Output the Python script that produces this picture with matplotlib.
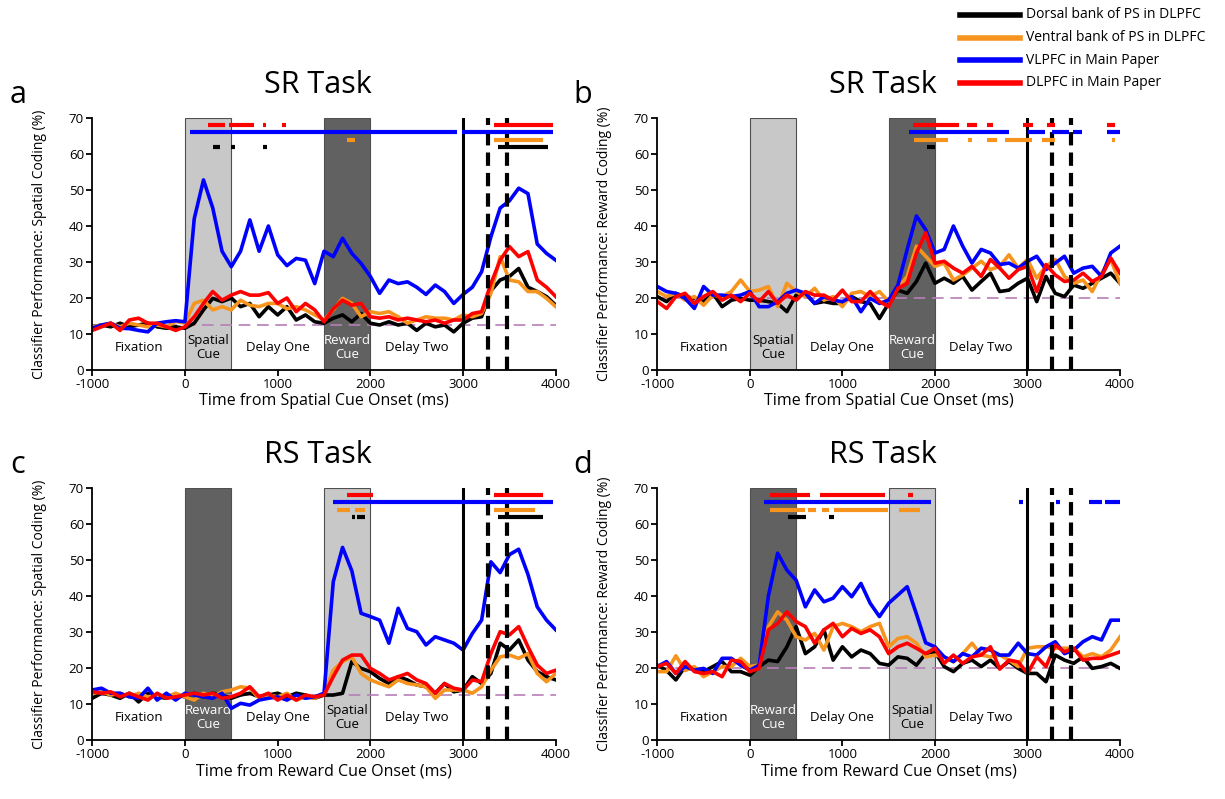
import matplotlib

matplotlib.use("Agg")

import matplotlib.pyplot as plt
import numpy as np
from matplotlib.lines import Line2D
from matplotlib.patches import Rectangle

plt.rcParams["font.family"] = ["Open Sans", "DejaVu Sans"]
plt.rcParams["axes.unicode_minus"] = False

BLACK = "#000000"
ORANGE = "#F7941D"
BLUE = "#0000FF"
RED = "#FF0000"
CHANCE = "#B77FB7"
LIGHT = "#C8C8C8"
DARK = "#616161"

# time bins (ms)
TIME = np.arange(-1000, 4001, 100)

# ---- panel a: SR task, spatial coding
a_black = [12, 12.5, 12, 13, 12, 12.5, 13, 12, 11.6, 12, 11.6,
           13, 16.7, 19.9, 19, 20, 17.6, 18.5, 14.8, 17.6, 15.3,
           17.6, 13.9, 15.3, 13.4, 13, 14.4, 15.3, 13.4, 15.7, 13,
           12.5, 13.4, 12.5, 13, 11, 13, 12, 12.5, 10.6, 13,
           14.4, 14.8, 22, 25, 26, 28.2, 23, 21.8, 20.4, 18]
a_orange = [12, 12.5, 13, 12, 13, 12.5, 12, 12.5, 12, 13.5, 13,
            18.5, 19.4, 16.7, 17.6, 16.7, 19.4, 18, 17.6, 18.5, 18.5,
            17, 17.6, 16.7, 15.3, 13.9, 16.7, 19.9, 18.5, 14.8, 16.2,
            15.7, 16.2, 14.8, 13, 13.9, 14.8, 14.4, 14.4, 13.9, 15.3,
            14.8, 15.7, 21.3, 31.5, 25, 24.5, 21.8, 21.8, 19.9, 17.6]
a_blue = [11.6, 12.5, 13, 11.6, 11.5, 11, 10.6, 13, 13.4, 13.7, 13.4,
          42, 52.8, 45, 33, 28.7, 33, 41.7, 33, 40, 32,
          29, 31, 30.5, 24, 33, 31.5, 36.6, 32.4, 29.6, 26,
          21.3, 25, 24, 24.5, 23, 21, 23.6, 21.8, 18.5, 21,
          23, 27.3, 37, 45, 47, 50.5, 49, 35, 32.4, 30.5]
a_red = [11, 12, 13, 11, 13.9, 14.4, 13, 13, 12, 11, 12,
         14.8, 18.5, 21.8, 19.4, 20.8, 21.8, 20.8, 20.8, 21.5, 18.5,
         20, 16.2, 18.5, 16.7, 13.4, 17, 19.4, 18, 18.5, 14.8,
         14.4, 14.8, 13.9, 14.4, 13.9, 13.4, 13.9, 13, 13.9, 13.9,
         15.7, 16.2, 24, 30.5, 34.3, 31.5, 32.9, 25, 23, 20.4]
a_sig_red = [(250, 430), (470, 740), (840, 875), (1050, 1090), (3330, 3975)]
a_sig_blue = [(55, 2930), (2985, 3975)]
a_sig_orange = [(1745, 1835), (3330, 3865)]
a_sig_black = [(300, 380), (495, 545), (845, 890), (3380, 3920)]

# ---- panel b: SR task, reward coding
b_black = [20.4, 19, 21.3, 20.4, 19.9, 19, 21.3, 17.6, 19.4, 19.9, 19.4,
           19.4, 19, 18.5, 16.2, 20.8, 21.3, 18.5, 19, 18.5, 18.5,
           20.4, 19, 18.5, 14.3, 18.5, 22.2, 21.3, 24.6, 29.7, 24.1,
           25.5, 24.1, 26, 22.2, 24.6, 26.9, 21.8, 22.2, 24.1, 25.5,
           19, 26, 21.3, 20.4, 23.6, 22.7, 24.1, 25.5, 26.9, 24.1]
b_orange = [21.8, 20.4, 21.3, 19.4, 20.4, 18, 20.8, 20.4, 21.8, 25, 21.8,
            22.2, 23.2, 17.6, 24.1, 21.8, 20.4, 22.7, 19.4, 20.4, 17.6,
            21.3, 21.8, 20.4, 21.8, 19, 22.7, 26, 34.4, 31.6, 28.8,
            29.7, 25, 26.4, 28.3, 30.2, 27.9, 28.8, 32, 28.3, 30.7,
            25.5, 28.8, 30.7, 26, 24.1, 25, 21.8, 26.9, 30.7, 24.1]
b_blue = [23.2, 21.8, 21.3, 19.9, 17.1, 23.2, 20.8, 20.8, 20.4, 20.8, 21.8,
          17.6, 17.6, 19, 21.3, 22.2, 21.3, 18.5, 20.4, 19.4, 19,
          20.4, 16.2, 19.9, 18.5, 19.4, 23.6, 33.5, 42.8, 39, 32.5,
          33.5, 40, 34.4, 29.7, 33.5, 32.5, 29.3, 29.7, 28.3, 30.2,
          31.6, 27.9, 29.7, 31.6, 26.9, 28.3, 28.8, 26, 32.5, 34.4]
b_red = [19, 17.1, 20.4, 21.3, 18.5, 20.4, 21.8, 19.4, 20.8, 19, 21.3,
         19, 21.8, 18.5, 20.8, 19.4, 21.8, 20.8, 20.8, 19.4, 22.2,
         19, 19, 21.8, 19, 17.6, 22.7, 24.1, 32.5, 38.1, 29.7,
         30.2, 28.3, 26.9, 28.8, 26, 30.7, 28.3, 25.5, 27.9, 28.8,
         21.8, 29.3, 26.4, 24.6, 25, 26.9, 24.6, 26, 31.1, 26.9]
b_sig_red = [(1760, 2255), (2345, 2450), (2560, 2630), (2955, 3065), (3210, 3300), (3860, 3950)]
b_sig_blue = [(1715, 2795), (3010, 3190), (3265, 3445), (3495, 3585), (3860, 4000)]
b_sig_orange = [(1770, 2145), (2360, 2400), (2560, 2670), (2760, 3045), (3155, 3300), (3910, 3950)]
b_sig_black = [(1910, 2000)]

# ---- panel c: RS task, spatial coding
c_black = [11.6, 13, 12.5, 11.6, 13, 10.6, 13, 12, 11.6, 12.5, 12,
           13, 12, 13, 12.5, 11.6, 12.5, 13, 12, 12.5, 13,
           12, 13, 12.5, 11.6, 12.5, 12.5, 13, 21.8, 19.9, 19,
           17.1, 15.7, 17.6, 16.7, 15.3, 14.8, 13, 15.7, 13.4, 13.9,
           17.6, 15.7, 18.5, 26.9, 25, 27.8, 22.2, 19, 17.6, 16.7]
c_orange = [13, 13.4, 12.5, 13, 12, 13, 12, 12.5, 12, 13, 12,
            11.1, 13, 12, 13.4, 13.9, 14.8, 14.4, 11.6, 12.5, 12,
            13, 11.1, 12, 11.6, 13, 19.4, 21.8, 23.1, 18.5, 16.7,
            15.7, 14.8, 16.7, 15.7, 15.3, 14.8, 11.6, 13.9, 13.9, 13.9,
            13, 14.8, 19.4, 23.1, 23.6, 22.7, 24, 18.5, 16.2, 18.5]
c_blue = [13.9, 14.4, 13, 13, 12, 11.6, 14.4, 11.1, 13, 11.1, 13,
          12.5, 12, 11.6, 13, 8.8, 10.2, 9.7, 11.1, 11.6, 12,
          11.1, 12.5, 11.6, 12, 13, 44, 53.5, 47, 35.2, 34.3,
          33.3, 26.9, 36.6, 31, 30.1, 26.4, 28.7, 27.8, 26.9, 25,
          29.6, 33.3, 49.5, 46.5, 51.5, 53, 46, 37, 33.3, 30.6]
c_red = [13.4, 13, 13.4, 12, 13, 12, 11.1, 13, 11.6, 12, 12.5,
         13, 12.5, 13, 11.6, 12, 13, 14.8, 12, 13, 11.1,
         12.5, 11.1, 12.5, 12, 12.5, 17.6, 22.2, 23.6, 23.6, 19.9,
         18.5, 16.7, 17.6, 18.5, 16.7, 15.7, 13, 15.7, 14.4, 13.9,
         16.7, 16.2, 24, 30.1, 29.2, 31.5, 25.9, 20.8, 18.5, 19.4]
c_sig_red = [(1745, 2030), (3330, 3865)]
c_sig_blue = [(1600, 3975)]
c_sig_orange = [(1645, 1780), (1835, 1945), (3330, 3775)]
c_sig_black = [(1800, 1835), (1855, 1945), (3380, 3865)]

# ---- panel d: RS task, reward coding
d_black = [20.8, 19.3, 16.7, 20.4, 19.9, 19, 20.4, 21.8, 19, 19, 18,
           20.4, 22.2, 21.8, 25.9, 31.5, 24, 25.9, 30.6, 22.2, 25.9,
           23.1, 25, 24, 21.3, 20.8, 23.1, 22.7, 20.8, 24, 24.5,
           20.4, 19, 21.3, 22.2, 20.4, 22.2, 19.9, 21.8, 19.9, 18.5,
           18.5, 16.2, 23.6, 22.2, 21.3, 23.1, 19.9, 20.4, 21.3, 19.9]
d_orange = [19, 19, 23.4, 19.3, 20.4, 17.6, 19, 20.4, 20.4, 22.7, 20.4,
            20.8, 31.5, 35.6, 33.3, 28.7, 27.8, 29.6, 25, 31.5, 32.4,
            31.5, 30.1, 31.5, 32.4, 25.9, 28.2, 28.7, 26.9, 23.1, 23.6,
            23.1, 21.7, 24, 26.9, 23.6, 23.1, 23.6, 22.2, 20.4, 25.5,
            25.9, 25.9, 25.5, 25.5, 25.5, 23.1, 24, 23.1, 25, 28.7]
d_blue = [20.4, 21.8, 18.5, 20.4, 19.4, 19.9, 18.5, 22.7, 22.7, 20.8, 19.4,
          20.8, 40, 51.9, 47.2, 44.4, 37, 41.7, 38.4, 39.4, 42.6,
          39.8, 43.5, 38, 34.3, 38, 40.3, 42.6, 35, 27, 25.9,
          23.1, 21.8, 24, 23.1, 25.5, 25, 23.6, 23.6, 26.9, 24,
          23.6, 25.9, 27.3, 24, 25, 27.3, 28.7, 27.8, 33.3, 33.3]
d_red = [20.4, 21.3, 18.5, 21.8, 19, 18.5, 19, 17.6, 22.2, 21.8, 19,
         19.9, 30.6, 32.4, 35.6, 32.9, 31.5, 26.9, 30.6, 32.4, 28.7,
         31, 29.6, 30.6, 28.7, 24, 25.9, 26.9, 25.5, 24, 25.5,
         21.3, 23.6, 21.3, 23.1, 23.6, 25.9, 19.7, 22.2, 21.7, 18.5,
         23.1, 20.4, 26.4, 24.5, 25.5, 22.2, 22.7, 22.7, 23.6, 24.5]
d_sig_red = [(220, 650), (760, 1460), (1705, 1760)]
d_sig_blue = [(155, 1955), (2905, 2955), (3305, 3355), (3660, 3805), (3840, 4000)]
d_sig_orange = [(220, 595), (630, 710), (775, 850), (910, 1495), (1615, 1840)]
d_sig_black = [(415, 605), (860, 905)]

LEGEND_LABELS = ["Dorsal bank of PS in DLPFC", "Ventral bank of PS in DLPFC",
                 "VLPFC in Main Paper", "DLPFC in Main Paper"]
COLORS = [BLACK, ORANGE, BLUE, RED]
SIG_LEVELS = [62, 64, 66, 68]


def draw_panel(ax, series, sigs, chance, first_cue, title, xlabel, ylabel):
    spatial = ("Spatial\nCue", LIGHT, "black")
    reward = ("Reward\nCue", DARK, "white")
    cues = [spatial, reward] if first_cue == "spatial" else [reward, spatial]
    for (label, face, tcol), (t0, t1) in zip(cues, [(0, 500), (1500, 2000)]):
        ax.add_patch(Rectangle((t0, 0), t1 - t0, 70, facecolor=face,
                               edgecolor="#505050", linewidth=0.8, zorder=1))
        ax.text((t0 + t1) / 2, 6.3, label, color=tcol, ha="center", va="center",
                fontsize=9.5, linespacing=1.05, zorder=2)
    ax.text(-500, 6.3, "Fixation", ha="center", va="center", fontsize=9.5, zorder=2)
    ax.text(1000, 6.3, "Delay One", ha="center", va="center", fontsize=9.5, zorder=2)
    ax.text(2500, 6.3, "Delay Two", ha="center", va="center", fontsize=9.5, zorder=2)

    ax.axhline(chance, color=CHANCE, linewidth=1.2, dashes=(7, 4), zorder=2)
    for values, color in zip(series, COLORS):
        ax.plot(TIME, values, color=color, linewidth=2.6, zorder=3)

    ax.axvline(3000, color="black", linewidth=2.2, zorder=4)
    for tv in (3270, 3470):
        ax.axvline(tv, color="black", linewidth=3, dashes=(3.2, 1.7), zorder=4)

    for segs, color, level in zip(sigs, COLORS, SIG_LEVELS):
        for t0, t1 in segs:
            ax.plot([t0, t1], [level, level], color=color, linewidth=3,
                    solid_capstyle="butt", zorder=5)

    ax.set_xlim(-1000, 4000)
    ax.set_ylim(0, 70)
    ax.set_xticks(np.arange(-1000, 4001, 1000))
    ax.set_yticks(np.arange(0, 71, 10))
    for side in ("top", "right"):
        ax.spines[side].set_visible(False)
    for side in ("left", "bottom"):
        ax.spines[side].set_linewidth(1.3)
        ax.spines[side].set_zorder(6)
    ax.tick_params(direction="out", length=4, width=1.3, labelsize=9.5, pad=2)
    ax.text(0.487, 1.13, title, transform=ax.transAxes, ha="center", va="center",
            fontsize=22)
    ax.set_xlabel(xlabel, fontsize=11.5)
    ax.set_ylabel(ylabel, fontsize=10)
    ax.xaxis.set_label_coords(0.5, -0.092)
    ax.yaxis.set_label_coords(-0.098, 0.5)


fig = plt.figure(figsize=(12.25, 7.99), dpi=100)
ax_a = fig.add_axes([0.0753, 0.5369, 0.3784, 0.3154])
ax_b = fig.add_axes([0.5366, 0.5369, 0.3777, 0.3154])
ax_c = fig.add_axes([0.0753, 0.0738, 0.3784, 0.3154])
ax_d = fig.add_axes([0.5366, 0.0738, 0.3777, 0.3154])

draw_panel(ax_a, [a_black, a_orange, a_blue, a_red],
           [a_sig_black, a_sig_orange, a_sig_blue, a_sig_red], 12.5, "spatial",
           "SR Task", "Time from Spatial Cue Onset (ms)",
           "Classifier Performance: Spatial Coding (%)")
draw_panel(ax_b, [b_black, b_orange, b_blue, b_red],
           [b_sig_black, b_sig_orange, b_sig_blue, b_sig_red], 20, "spatial",
           "SR Task", "Time from Spatial Cue Onset (ms)",
           "Classifier Performance: Reward Coding (%)")
draw_panel(ax_c, [c_black, c_orange, c_blue, c_red],
           [c_sig_black, c_sig_orange, c_sig_blue, c_sig_red], 12.5, "reward",
           "RS Task", "Time from Reward Cue Onset (ms)",
           "Classifier Performance: Spatial Coding (%)")
draw_panel(ax_d, [d_black, d_orange, d_blue, d_red],
           [d_sig_black, d_sig_orange, d_sig_blue, d_sig_red], 20, "reward",
           "RS Task", "Time from Reward Cue Onset (ms)",
           "Classifier Performance: Reward Coding (%)")

for letter, (x, y) in zip("abcd", [(18, 95), (583, 95), (18, 465), (583, 465)]):
    fig.text(x / 1225, 1 - y / 799, letter, fontsize=22, ha="center", va="center")

# legend drawn in figure pixels
for i, (label, color) in enumerate(zip(LEGEND_LABELS, COLORS)):
    y = 1 - (15 + 22.6 * i) / 799
    fig.add_artist(Line2D([960 / 1225, 1020 / 1225], [y, y], color=color,
                          linewidth=4, transform=fig.transFigure))
    fig.text(1026 / 1225, y, label, fontsize=10, ha="left", va="center")

fig.savefig("out.png", dpi=100, facecolor="white")
